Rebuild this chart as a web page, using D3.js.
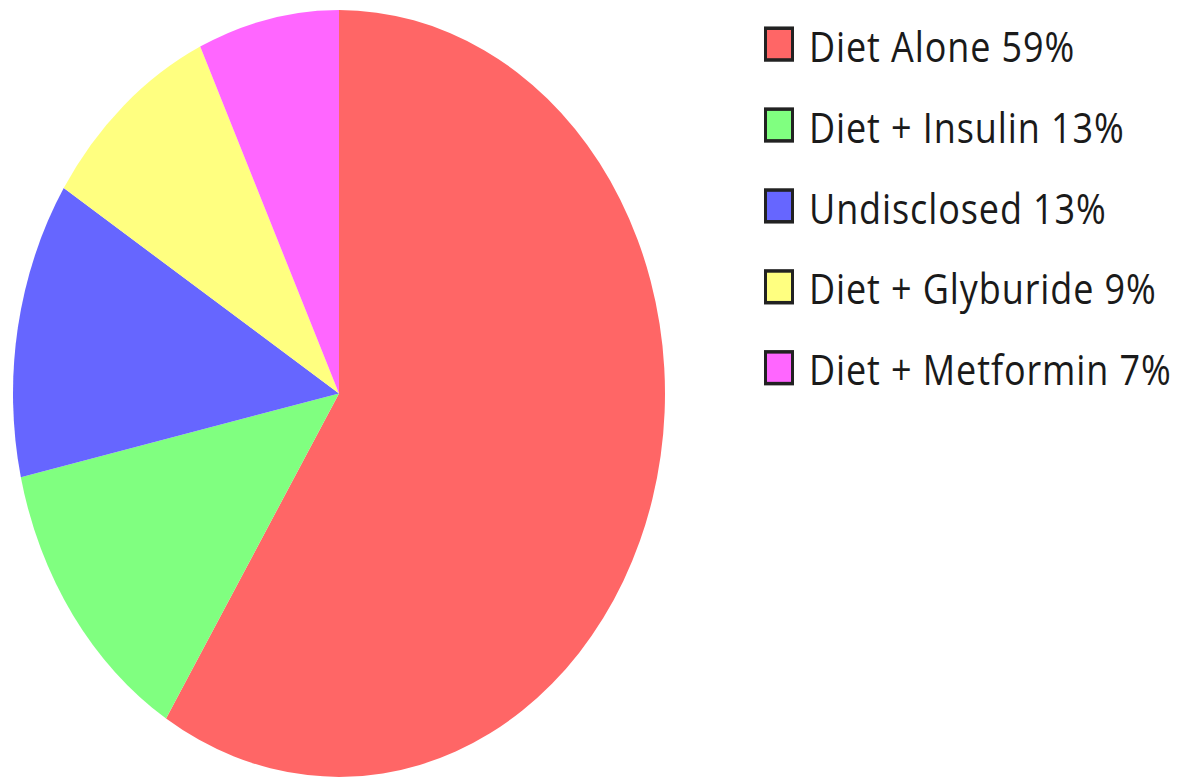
<!DOCTYPE html>
<html>
<head>
<meta charset="utf-8">
<script src="https://cdn.jsdelivr.net/npm/d3@7"></script>
<style>
  body { margin: 0; background: #fff; }
  svg { display: block; }
</style>
</head>
<body>
<svg class="chart"></svg>
<script>

var width = 1179,
    height = 779;

// data
var categories = ["Diet Alone", "Diet + Insulin", "Undisclosed", "Diet + Glyburide", "Diet + Metformin"];
var shares = [58.9, 12.6, 12.5, 9.0, 7.0];
var labels = ["59%", "13%", "13%", "9%", "7%"];
var colours = ["#ff6666", "#80ff80", "#6666ff", "#ffff80", "#ff66ff"];

// the original picture is stretched vertically
var stretch = 1.176;

var chart = d3.select(".chart")
    .attr("width", width)
    .attr("height", height);

var g = chart.append("g")
    .attr("transform", "scale(1," + stretch + ")");

var radius = 326;

var pie = d3.pie()
    .sort(null)
    .value(function(d) { return d; });

var arc = d3.arc()
    .innerRadius(0)
    .outerRadius(radius);

var colour = d3.scaleOrdinal()
    .domain(categories)
    .range(colours);

var pieG = g.append("g")
    .attr("transform", "translate(339," + (393.5 / stretch) + ")");

pieG.selectAll("path")
    .data(pie(shares))
  .enter().append("path")
    .attr("d", arc)
    .attr("fill", function(d, i) { return colour(categories[i]); });

// legend
var rowY = d3.scaleBand()
    .domain(categories)
    .range([20.5, 20.5 + 68.8 * categories.length])
    .paddingInner(0);

var legend = g.append("g")
    .attr("class", "legend");

var item = legend.selectAll("g")
    .data(categories)
  .enter().append("g")
    .attr("transform", function(d) { return "translate(0," + rowY(d) + ")"; });

item.append("rect")
    .attr("x", 765.5)
    .attr("y", 3.5)
    .attr("width", 27)
    .attr("height", 27)
    .attr("fill", function(d) { return colour(d); })
    .attr("stroke", "#222")
    .attr("stroke-width", 3);

item.append("text")
    .attr("x", 809)
    .attr("y", 32)
    .attr("font-family", "'Open Sans', sans-serif")
    .attr("font-size", 36)
    .attr("letter-spacing", 0.9)
    .attr("fill", "#1a1a1a")
    .text(function(d, i) { return d + " " + labels[i]; });

</script>
</body>
</html>
